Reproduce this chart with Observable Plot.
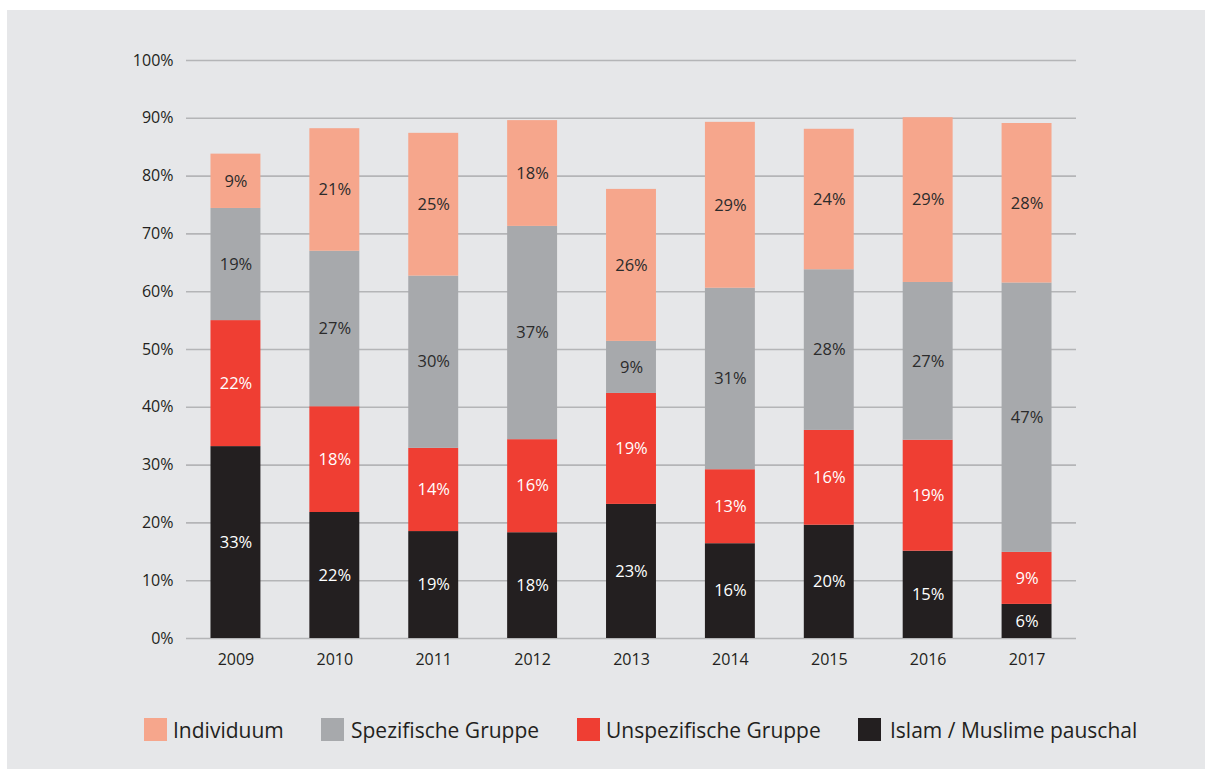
<!DOCTYPE html>
<html>
<head>
<meta charset="utf-8">
<script src="https://cdn.jsdelivr.net/npm/d3@7"></script>
<script src="https://cdn.jsdelivr.net/npm/@observablehq/plot@0.6"></script>
<style>
  html, body { margin: 0; padding: 0; background: #ffffff; width: 1205px; height: 769px; overflow: hidden; }
  #panel { position: absolute; left: 7px; top: 10px; width: 1198px; height: 759px; background: #e6e7e9; font-family: "Open Sans", sans-serif; }
  #chart { position: absolute; left: 0; top: 0; }
  .sw { position: absolute; top: 708px; width: 23px; height: 23px; }
  .lt { position: absolute; top: 706px; line-height: 28px; font-size: 21px; color: #231f20; white-space: nowrap; }
</style>
</head>
<body>
<div id="panel">
  <div id="chart"></div>
  <div id="legend"></div>
</div>
<script>
const years = ["2009", "2010", "2011", "2012", "2013", "2014", "2015", "2016", "2017"];
const series = ["Islam / Muslime pauschal", "Unspezifische Gruppe", "Spezifische Gruppe", "Individuum"];
const islam = [33.2, 21.8, 18.5, 18.3, 23.2, 16.4, 19.6, 15.1, 5.9];
const unspezifisch = [21.8, 18.3, 14.4, 16.1, 19.2, 12.8, 16.4, 19.2, 9.0];
const spezifisch = [19.4, 26.9, 29.8, 36.9, 9.0, 31.4, 27.8, 27.3, 46.6];
const individuum = [9.4, 21.2, 24.7, 18.3, 26.3, 28.7, 24.3, 28.5, 27.6];
const yTicks = [0, 10, 20, 30, 40, 50, 60, 70, 80, 90, 100];

const colors = ["#231f20", "#ef3e33", "#a7a9ac", "#f6a68c"];
const textColors = ["#ffffff", "#ffffff", "#2b2b2b", "#2b2b2b"];
const valuesBySeries = [islam, unspezifisch, spezifisch, individuum];

const data = [];
series.forEach((s, i) => {
  years.forEach((y, j) => {
    data.push({year: y, series: s, value: valuesBySeries[i][j]});
  });
});

const chart = Plot.plot({
  width: 1198,
  height: 690,
  marginLeft: 179,
  marginRight: 129,
  marginTop: 50,
  marginBottom: 62,
  style: {background: "transparent", fontFamily: "Open Sans, sans-serif", fontSize: "16px", color: "#231f20"},
  x: {domain: years, paddingInner: 0.495, paddingOuter: 0.2475, round: false, label: null, tickSize: 0, tickPadding: 15},
  y: {domain: [0, 100], ticks: yTicks, label: null, tickSize: 0, tickPadding: 13, tickFormat: d => d + "%"},
  color: {domain: series, range: colors},
  marks: [
    Plot.ruleY(yTicks, {stroke: "#b4b5b7", strokeWidth: 1.6}),
    Plot.barY(data, Plot.stackY({x: "year", y: "value", z: "series", order: series, fill: "series"})),
    Plot.text(data, Plot.stackY({
      x: "year", y: "value", z: "series", order: series,
      text: d => Math.round(d.value) + "%",
      fill: d => textColors[series.indexOf(d.series)],
      fontSize: 16.5
    }))
  ]
});
document.getElementById("chart").appendChild(chart);

const legendOrder = ["Individuum", "Spezifische Gruppe", "Unspezifische Gruppe", "Islam / Muslime pauschal"];
const swatchX = [137, 314, 570, 851];
const textX = [166, 344, 599, 883];
const legend = document.getElementById("legend");
legendOrder.forEach((name, i) => {
  const sw = document.createElement("div");
  sw.className = "sw";
  sw.style.left = swatchX[i] + "px";
  sw.style.background = colors[series.indexOf(name)];
  const label = document.createElement("div");
  label.className = "lt";
  label.style.left = textX[i] + "px";
  label.textContent = name;
  legend.appendChild(sw);
  legend.appendChild(label);
});
</script>
</body>
</html>
